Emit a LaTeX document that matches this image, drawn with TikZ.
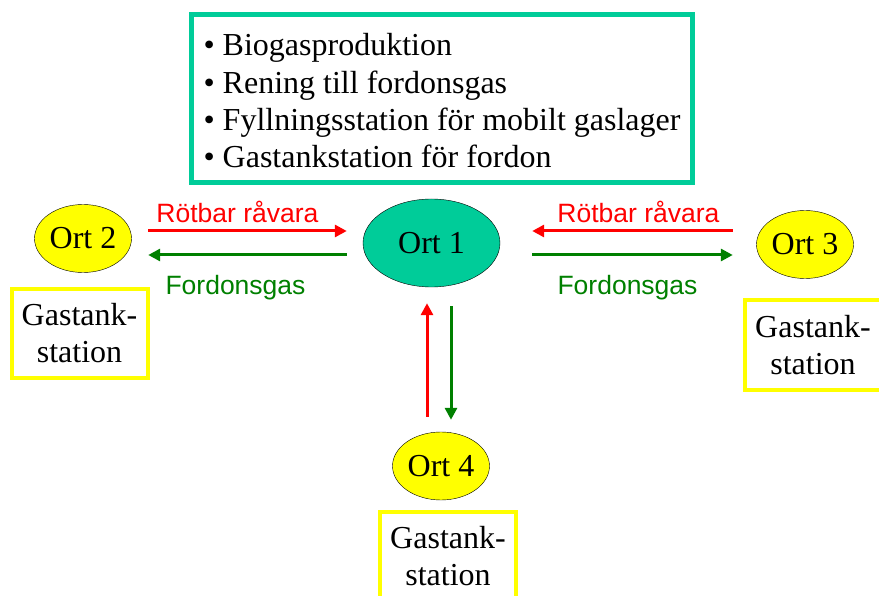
\documentclass[tikz,border=0pt]{standalone}
\usepackage{fontspec}
\setmainfont{Liberation Serif}
\setsansfont{Liberation Sans}
\usepackage{xcolor}
\usepackage{tikz}
\usetikzlibrary{shapes.geometric, arrows.meta, positioning}
\definecolor{hubteal}{RGB}{0,204,153}
\definecolor{ortyellow}{RGB}{255,255,0}
\definecolor{rawred}{RGB}{255,0,0}
\definecolor{gasgreen}{RGB}{0,128,0}
\tikzset{
    ort/.style={ellipse, draw, thin, fill=ortyellow, minimum width=97pt, minimum height=68pt, inner sep=0pt, text centered, font=\fontsize{32}{37}\selectfont},
    hub/.style={ort, fill=hubteal, minimum width=137pt, minimum height=88pt},
    station/.style={rectangle, draw=ortyellow, line width=4pt, fill=white, minimum width=136pt, minimum height=89pt, align=center, font=\fontsize{32}{37}\selectfont},
    goalbox/.style={rectangle, draw=hubteal, line width=5pt, minimum width=501pt, minimum height=168pt, inner sep=0pt, align=left, font=\fontsize{32}{37.3}\selectfont},
    flow/.style={-{Triangle[length=12pt, width=12pt]}, line width=3pt},
    flowlabel/.style={font=\sffamily\fontsize{26.5}{30}\selectfont, inner sep=0pt}
}
\begin{document}
\begin{tikzpicture}[x=1pt, y=-1pt]
    \useasboundingbox (0,0) rectangle (879,596);

    % Process list at Ort 1
    \node[goalbox] (goals) at (442,98.5) {%
        \rule{0pt}{27pt}\textbullet{} Biogasproduktion\\ %
        \textbullet{} Rening till fordonsgas\\ %
        \textbullet{} Fyllningsstation för mobilt gaslager\\ %
        \textbullet{} Gastankstation för fordon%
    };

    % Places
    \node[hub] (ort1) at (431.5,243) {Ort 1};
    \node[ort] (ort2) at (83,238.5) {Ort 2};
    \node[ort] (ort3) at (805,244.5) {Ort 3};
    \node[ort] (ort4) at (441,466) {Ort 4};

    % Gas stations
    \node[station] (station2) at (79.5,333.5) {Gastank-\\ station};
    \node[station] (station3) at (813,345) {Gastank-\\ station};
    \node[station] (station4) at (448,556.5) {Gastank-\\ station};

    % Ort 2 <-> Ort 1
    \draw[flow, rawred] ([shift={(16.5,-7.5)}]ort2.east) -- ([shift={(-16,-12)}]ort1.west)
        node[flowlabel, midway, above=7pt, xshift=-10pt, text=rawred] (raw2) {Rötbar råvara};
    \draw[flow, gasgreen] ([shift={(-16,12)}]ort1.west) -- ([shift={(16.5,16.5)}]ort2.east)
        node[flowlabel, midway, below=19pt, xshift=-12pt, text=gasgreen] (gas2) {Fordonsgas};

    % Ort 3 <-> Ort 1
    \draw[flow, rawred] ([shift={(-23.5,-13.5)}]ort3.west) -- ([shift={(32,-12)}]ort1.east)
        node[flowlabel, midway, above=7pt, xshift=6pt, text=rawred] (raw3) {Rötbar råvara};
    \draw[flow, gasgreen] ([shift={(32,12)}]ort1.east) -- ([shift={(-23.5,10.5)}]ort3.west)
        node[flowlabel, midway, below=19pt, xshift=-5pt, text=gasgreen] (gas3) {Fordonsgas};

    % Ort 4 <-> Ort 1
    \draw[flow, rawred] ([shift={(-14,-15)}]ort4.north) -- ([shift={(-4.5,16)}]ort1.south);
    \draw[flow, gasgreen] ([shift={(19.5,19)}]ort1.south) -- ([shift={(10,-12)}]ort4.north);
\end{tikzpicture}
\end{document}
